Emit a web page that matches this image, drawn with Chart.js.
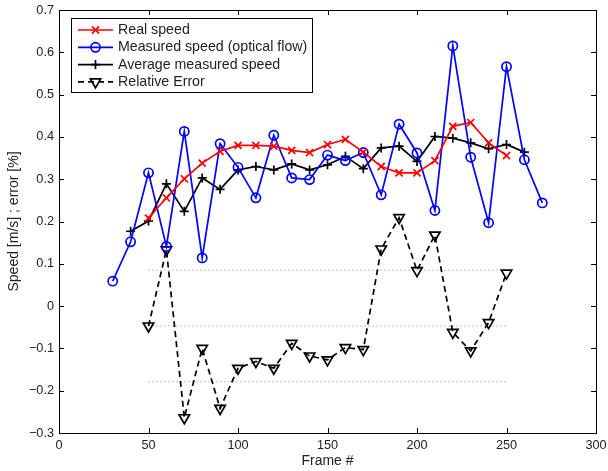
<!DOCTYPE html>
<html>
<head>
<meta charset="utf-8">
<script src="https://cdn.jsdelivr.net/npm/chart.js@4"></script>
<style>
  html, body { margin: 0; padding: 0; background: #fff; }
</style>
</head>
<body>
<canvas id="chart" width="608" height="471"></canvas>
<script>
// Values
const measuredX = [30, 40, 50, 60, 70, 80, 90, 100, 110, 120, 130, 140, 150, 160, 170, 180, 190, 200, 210, 220, 230, 240, 250, 260, 270];
const measured = [0.059, 0.152, 0.315, 0.141, 0.413, 0.114, 0.384, 0.328, 0.256, 0.404, 0.303, 0.299, 0.357, 0.344, 0.363, 0.263, 0.430, 0.362, 0.226, 0.615, 0.352, 0.197, 0.566, 0.346, 0.244];

const realX = [50, 60, 70, 80, 90, 100, 110, 120, 130, 140, 150, 160, 170, 180, 190, 200, 210, 220, 230, 240, 250];
const real = [0.208, 0.256, 0.301, 0.338, 0.366, 0.380, 0.380, 0.378, 0.368, 0.363, 0.382, 0.394, 0.364, 0.330, 0.315, 0.315, 0.344, 0.425, 0.434, 0.386, 0.356];

const avgX = [40, 50, 60, 70, 80, 90, 100, 110, 120, 130, 140, 150, 160, 170, 180, 190, 200, 210, 220, 230, 240, 250, 260];
const avg = [0.177, 0.201, 0.289, 0.224, 0.303, 0.276, 0.322, 0.330, 0.322, 0.336, 0.322, 0.334, 0.354, 0.325, 0.374, 0.378, 0.342, 0.401, 0.397, 0.386, 0.372, 0.382, 0.364];

const errX = [50, 60, 70, 80, 90, 100, 110, 120, 130, 140, 150, 160, 170, 180, 190, 200, 210, 220, 230, 240, 250];
const err = [-0.047, 0.133, -0.264, -0.100, -0.242, -0.147, -0.131, -0.147, -0.088, -0.118, -0.127, -0.098, -0.103, 0.135, 0.209, 0.084, 0.168, -0.062, -0.106, -0.039, 0.078];

// dotted reference levels (mean +/- std of the error)
const refLevels = [0.085, -0.047, -0.179];
const refRange = [50, 250];

const xTicks = [0, 50, 100, 150, 200, 250, 300];
const yTicks = [-0.3, -0.2, -0.1, 0, 0.1, 0.2, 0.3, 0.4, 0.5, 0.6, 0.7];

const FONT = 'Liberation Sans, Arial, Helvetica, sans-serif';

function pts(xs, ys) {
  return xs.map((x, i) => ({ x, y: ys[i] }));
}

const series = [
  { label: 'Real speed', data: pts(realX, real), borderColor: '#ff0000', pointStyle: 'crossRot', pointRadius: 5, pointRotation: 0, borderDash: [] },
  { label: 'Measured speed (optical flow)', data: pts(measuredX, measured), borderColor: '#0000ff', pointStyle: 'circle', pointRadius: 4.6, pointRotation: 0, borderDash: [] },
  { label: 'Average measured speed', data: pts(avgX, avg), borderColor: '#000000', pointStyle: 'cross', pointRadius: 4.5, pointRotation: 0, borderDash: [] },
  { label: 'Relative Error', data: pts(errX, err), borderColor: '#000000', pointStyle: 'triangle', pointRadius: 6, pointRotation: 180, borderDash: [6, 4] },
];

const LW = 1.7;

const datasets = series.map(s => ({
  label: s.label,
  data: s.data,
  borderColor: s.borderColor,
  backgroundColor: 'transparent',
  borderWidth: LW,
  borderDash: s.borderDash,
  pointStyle: s.pointStyle,
  pointRadius: s.pointRadius,
  pointRotation: s.pointRotation,
  pointBorderColor: s.borderColor,
  pointBackgroundColor: 'transparent',
  pointBorderWidth: LW,
  tension: 0,
}));

refLevels.forEach(level => {
  datasets.push({
    label: 'ref',
    data: pts(refRange, [level, level]),
    borderColor: '#808080',
    borderWidth: 1,
    borderDash: [1, 3],
    pointRadius: 0,
    tension: 0,
  });
});

function fmtY(v) {
  if (Math.abs(v) < 1e-9) return '0';
  const s = Math.abs(v).toFixed(1);
  return v < 0 ? '\u2212' + s : s;
}

// box, inward ticks and legend (matlab style)
const matlabFrame = {
  id: 'matlabFrame',
  afterDraw(chart) {
    const { ctx, chartArea: a, scales: { x, y } } = chart;
    ctx.save();
    ctx.strokeStyle = '#000';
    ctx.lineWidth = 1;
    ctx.strokeRect(Math.round(a.left) + 0.5, Math.round(a.top) + 0.5, Math.round(a.right - a.left), Math.round(a.bottom - a.top));

    const tl = 5;
    ctx.beginPath();
    xTicks.forEach(v => {
      const px = Math.round(x.getPixelForValue(v)) + 0.5;
      ctx.moveTo(px, a.bottom); ctx.lineTo(px, a.bottom - tl);
      ctx.moveTo(px, a.top); ctx.lineTo(px, a.top + tl);
    });
    yTicks.forEach(v => {
      const py = Math.round(y.getPixelForValue(v)) + 0.5;
      ctx.moveTo(a.left, py); ctx.lineTo(a.left + tl, py);
      ctx.moveTo(a.right, py); ctx.lineTo(a.right - tl, py);
    });
    ctx.stroke();

    // legend
    const lx = 71, ly = 18, lw = 241, lh = 74;
    ctx.fillStyle = '#fff';
    ctx.fillRect(lx, ly, lw, lh);
    ctx.strokeRect(lx + 0.5, ly + 0.5, lw, lh);
    ctx.font = '14.2px ' + FONT;
    ctx.textBaseline = 'middle';
    series.forEach((s, i) => {
      const cy = ly + 12 + i * 17.3;
      ctx.save();
      ctx.strokeStyle = s.borderColor;
      ctx.lineWidth = LW;
      ctx.setLineDash(s.borderDash);
      ctx.beginPath();
      ctx.moveTo(78, cy); ctx.lineTo(113, cy);
      ctx.stroke();
      ctx.setLineDash([]);
      ctx.fillStyle = 'transparent';
      Chart.helpers.drawPoint(ctx, {
        pointStyle: s.pointStyle,
        radius: s.pointRadius,
        rotation: s.pointRotation,
        borderWidth: LW,
      }, 95.5, cy);
      ctx.restore();
      ctx.fillStyle = '#222';
      ctx.fillText(s.label, 118, cy);
    });
    ctx.restore();
  }
};

new Chart(document.getElementById('chart').getContext('2d'), {
  type: 'line',
  data: { datasets },
  options: {
    responsive: false,
    animation: false,
    layout: { padding: { left: 0, top: 10, right: 12, bottom: 0 } },
    plugins: { legend: { display: false }, tooltip: { enabled: false } },
    scales: {
      x: {
        type: 'linear',
        min: 0,
        max: 300,
        afterFit: scale => {
          scale.height = 38;
          scale.paddingLeft = 0;
          scale.paddingRight = 0;
        },
        afterBuildTicks: scale => { scale.ticks = xTicks.map(value => ({ value })); },
        grid: { display: false, drawTicks: false },
        border: { display: false },
        ticks: { autoSkip: false, maxRotation: 0, padding: 5, color: '#222', font: { family: FONT, size: 12.7 } },
        title: { display: true, text: 'Frame #', color: '#222', padding: { top: 0, bottom: 1.5 }, font: { family: FONT, size: 14 } },
      },
      y: {
        type: 'linear',
        min: -0.3,
        max: 0.7,
        afterFit: scale => {
          scale.width = 59;
          scale.paddingTop = 0;
          scale.paddingBottom = 0;
        },
        afterBuildTicks: scale => { scale.ticks = yTicks.map(value => ({ value })); },
        grid: { display: false, drawTicks: false },
        border: { display: false },
        ticks: { autoSkip: false, padding: 5, color: '#222', callback: v => fmtY(v), font: { family: FONT, size: 12.7 } },
        title: { display: true, text: 'Speed [m/s] ; error [%]', color: '#222', padding: { top: 5.5, bottom: 0 }, font: { family: FONT, size: 14 } },
      },
    },
  },
  plugins: [matlabFrame],
});
</script>
</body>
</html>
